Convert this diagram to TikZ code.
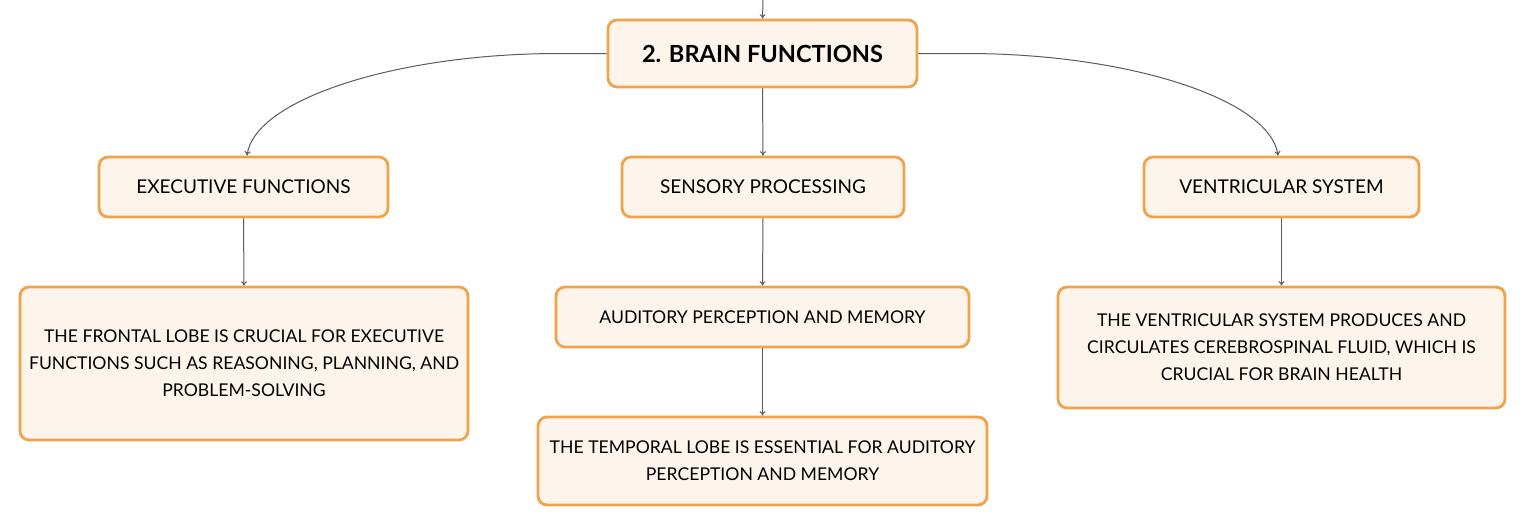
\documentclass[tikz,border=0pt]{standalone}
\usepackage{fontspec}
\setmainfont{Lato}
\usepackage{tikz}
\usetikzlibrary{calc,arrows.meta}
\usepackage{xcolor}
\definecolor{bord}{HTML}{F2A34A}
\definecolor{fond}{HTML}{FDF4EB}
\definecolor{trait}{HTML}{5A5A5A}

\begin{document}
\begin{tikzpicture}[x=0.5pt,y=-0.5pt]

		\useasboundingbox (0,0) rectangle (1527,526);
		\tikzset{boite/.style={draw=bord, fill=fond, line width=1.4pt, rounded corners=4.5pt, align=center, font=\fontsize{8.8}{13.5}\selectfont, inner sep=0pt}}
		\tikzset{fleche/.style={draw=trait, line width=0.5pt, -{To[length=2.2pt,width=3pt]}}}
		\node[boite, minimum width=154.5pt, minimum height=33.5pt, font=\fontsize{11.8}{14}\selectfont\bfseries] (B) at (762.5,53.5) {2. BRAIN FUNCTIONS};
		\node[boite, minimum width=144.5pt, minimum height=30pt, font=\fontsize{9.5}{13.5}\selectfont] (E) at (243.5,187) {EXECUTIVE FUNCTIONS};
		\node[boite, minimum width=141pt, minimum height=30pt, font=\fontsize{9.5}{13.5}\selectfont] (S) at (763,187) {SENSORY PROCESSING};
		\node[boite, minimum width=137.5pt, minimum height=30pt, font=\fontsize{9.5}{13.5}\selectfont] (V) at (1281.5,187) {VENTRICULAR SYSTEM};
		\node[boite, minimum width=224pt, minimum height=76.5pt] (F) at (244,363.5) {THE FRONTAL LOBE IS CRUCIAL FOR EXECUTIVE\\FUNCTIONS SUCH AS REASONING, PLANNING, AND\\PROBLEM-SOLVING};
		\node[boite, minimum width=206.5pt, minimum height=30pt] (A) at (762.5,317) {AUDITORY PERCEPTION AND MEMORY};
		\node[boite, minimum width=224.5pt, minimum height=44pt] (T) at (762.5,461) {THE TEMPORAL LOBE IS ESSENTIAL FOR AUDITORY\\PERCEPTION AND MEMORY};
		\node[boite, minimum width=223.5pt, minimum height=60.5pt] (C) at (1281.5,347.5) {THE VENTRICULAR SYSTEM PRODUCES AND\\CIRCULATES CEREBROSPINAL FLUID, WHICH IS\\CRUCIAL FOR BRAIN HEALTH};

		\coordinate (haut) at (763,0);

    \draw[fleche] (haut) -- (B.north);
    \draw[fleche] (B.west) -- ++(-48,0) .. controls +(-160,0) and +(8,-57) .. ($(E.north)+(3.5,0)$);
    \draw[fleche] (B.east) -- ++(48,0) .. controls +(160,0) and +(-8,-57) .. ($(V.north)+(-3.5,0)$);
    \draw[fleche] (B.south) -- (S.north);
    \draw[fleche] (E.south) -- (F.north);
    \draw[fleche] (S.south) -- (A.north);
    \draw[fleche] (A.south) -- (T.north);
    \draw[fleche] (V.south) -- (C.north);

		\end{tikzpicture}
\end{document}
